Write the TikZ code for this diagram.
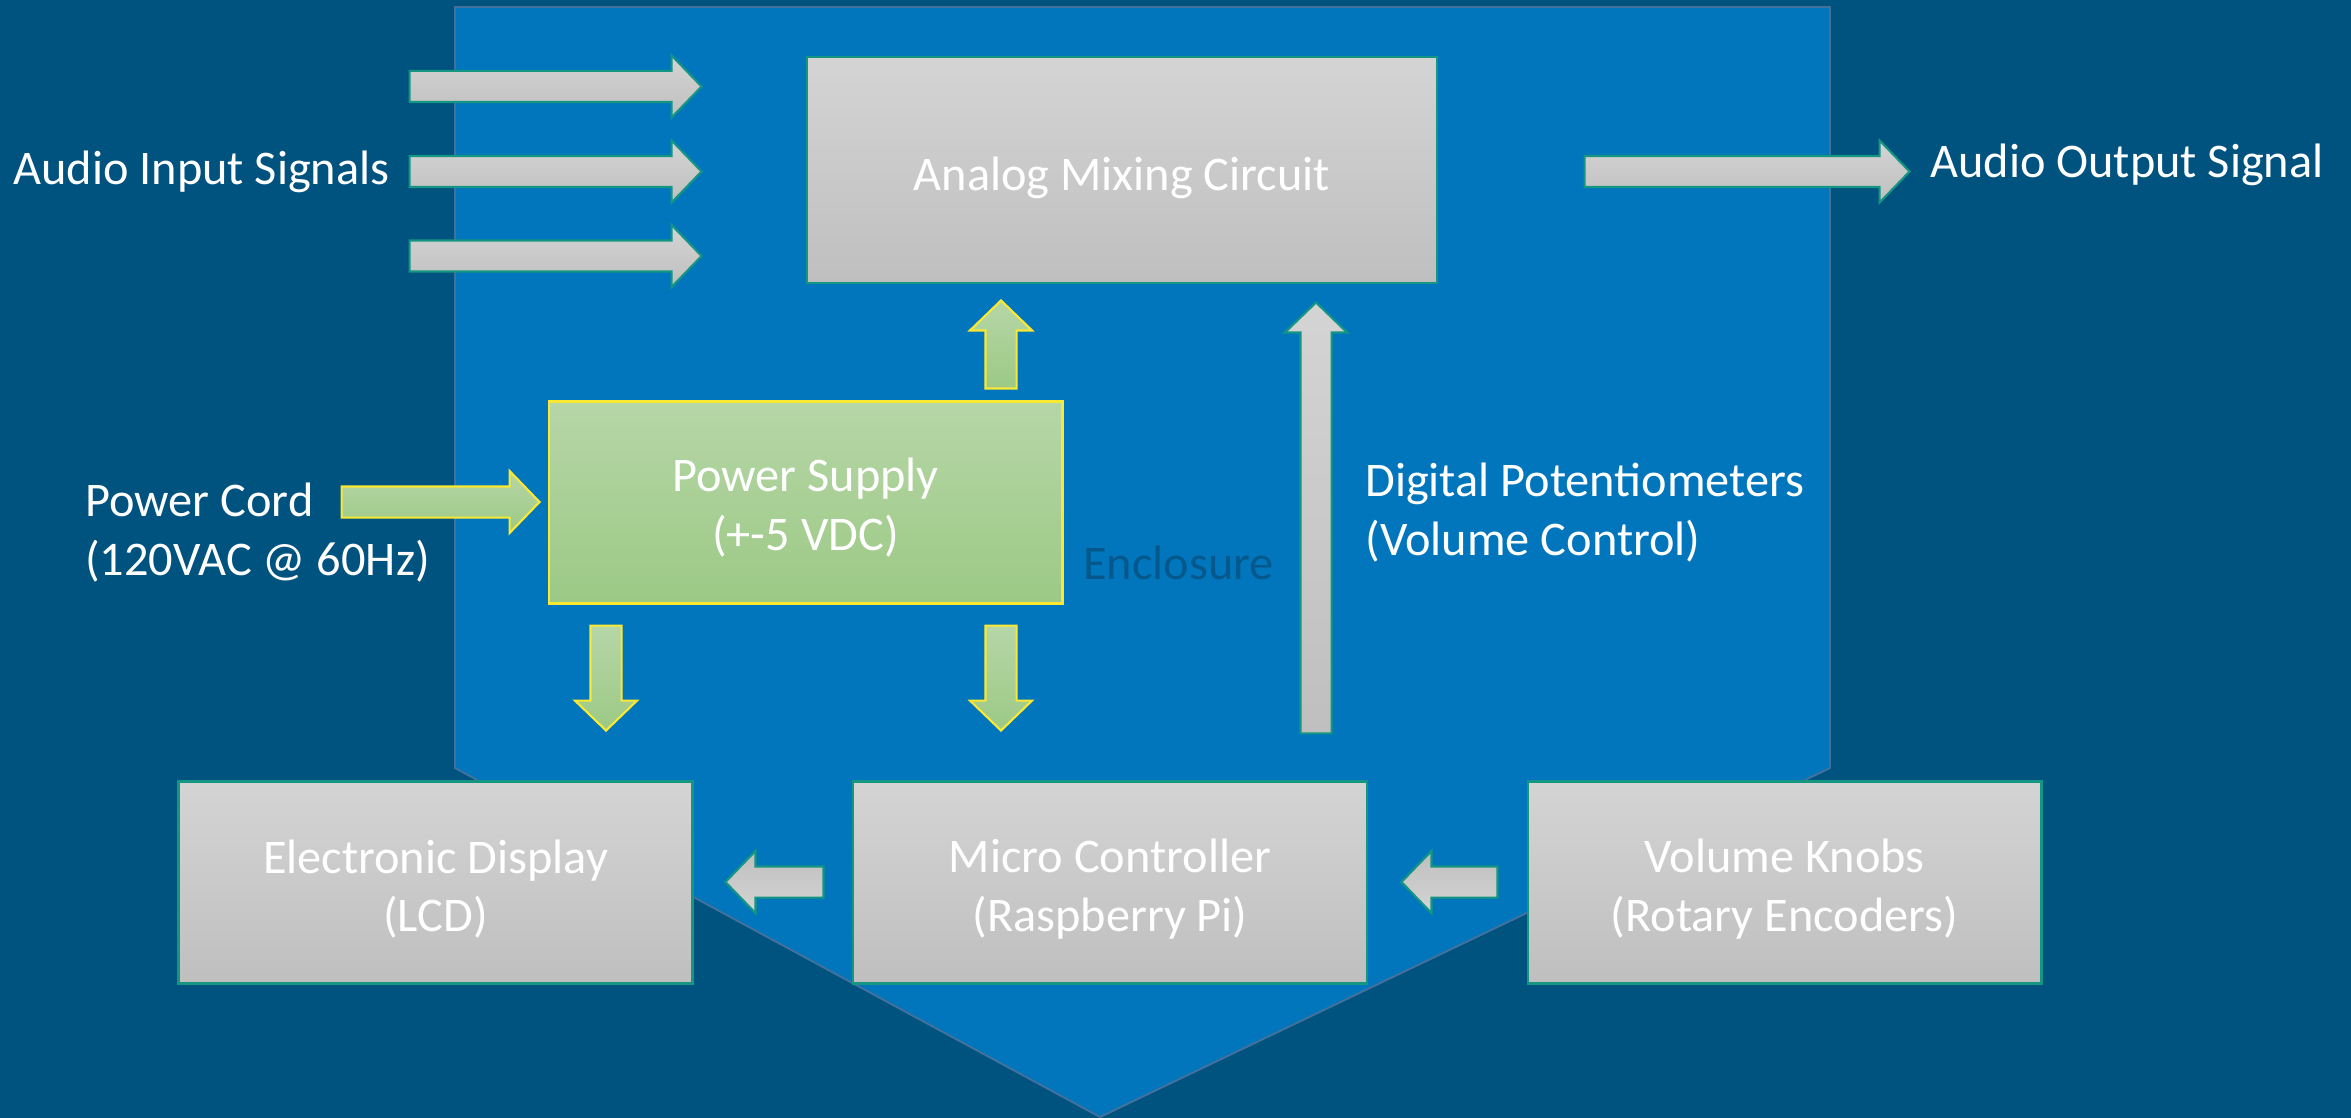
\documentclass[tikz,border=0pt]{standalone}
\usepackage{fontspec}
\setmainfont{Carlito}
\usetikzlibrary{shapes.arrows}

\definecolor{bgdark}{RGB}{0,82,127}
\definecolor{encl}{RGB}{2,118,188}
\definecolor{enclline}{RGB}{65,113,156}
\definecolor{encltext}{RGB}{4,88,140}
\definecolor{graytop}{RGB}{212,212,212}
\definecolor{graybot}{RGB}{191,191,191}
\definecolor{greentop}{RGB}{182,214,167}
\definecolor{greenbot}{RGB}{156,201,133}
\definecolor{tealline}{RGB}{20,150,130}
\definecolor{yelline}{RGB}{250,232,50}

\tikzset{
  lbl/.style={font=\fontsize{27.5}{33.5}\selectfont, text=white, inner sep=0pt},
  boxtext/.style={lbl, align=center, yshift=-0.13cm},
  box/.style={draw=tealline, line width=1.2pt, top color=graytop, bottom color=graybot,
    minimum width=10.28cm, minimum height=4.04cm, inner sep=0pt},
  psubox/.style={box, draw=yelline, top color=greentop, bottom color=greenbot},
  blk/.style={single arrow, draw=tealline, line width=1.2pt, top color=graytop, bottom color=graybot,
    inner sep=0.29cm, minimum width=1.2cm, single arrow head extend=0.31cm,
    single arrow tip angle=92, anchor=tip},
  gblk/.style={blk, draw=yelline, top color=greentop, bottom color=greenbot}
}

\begin{document}
\begin{tikzpicture}[x=0.02cm,y=-0.02cm]

% Background and enclosure
\useasboundingbox (0,0) rectangle (2351,1118);
\fill[bgdark] (0,0) rectangle (2351,1118);
\draw[draw=enclline, fill=encl, line width=1.1pt] (455,7) -- (1830,7) -- (1830,768) -- (1100,1117) -- (455,768) -- cycle;
\node[lbl, text=encltext, anchor=base west] (enc) at (1083,579) {Enclosure};

% Blocks
\node[box, minimum width=12.6cm, minimum height=4.52cm,
  label={[boxtext, yshift=-0.02cm]center:Analog Mixing Circuit}] (mix) at (1122,170) {};
\node[psubox, label={[boxtext, yshift=0.03cm]center:Power Supply\\(+-5 VDC)}] (psu) at (805.5,502.5) {};
\node[box, label={[boxtext]center:Electronic Display\\(LCD)}] (lcd) at (435.5,882.5) {};
\node[box, label={[boxtext]center:Micro Controller\\(Raspberry Pi)}] (mcu) at (1110,882.5) {};
\node[box, label={[boxtext]center:Volume Knobs\\(Rotary Encoders)}] (knobs) at (1784.5,882.5) {};

% Outside labels
\node[lbl, anchor=base west] (insig) at (13,185) {Audio Input Signals};
\node[lbl, anchor=base west] (outsig) at (1930,178) {Audio Output Signal};
\node[lbl, anchor=west, align=left] (cord) at (85,533) {Power Cord\\(120VAC @ 60Hz)};
\node[lbl, anchor=west, align=left] (pots) at (1365,513) {Digital Potentiometers\\(Volume Control)};

% Signal arrows
\foreach \y/\n in {86.5/1,171.5/2,256/3}
  \node[blk, minimum height=5.84cm] (in\n) at (703,\y) {};
\node[blk, minimum height=6.5cm] (mixout) at (1911,171.5) {};
\node[blk, minimum height=8.62cm, rotate=90] (potctl) at (1316,301) {};
\node[blk, minimum height=1.96cm, rotate=180, shading angle=180] (mcu2lcd) at (724,882) {};
\node[blk, minimum height=1.92cm, rotate=180, shading angle=180] (knob2mcu) at (1400,882) {};

% Power arrows
\node[gblk, minimum height=3.96cm] (cordin) at (541,502) {};
\node[gblk, minimum height=1.76cm, rotate=90] (psu2mix) at (1001,299) {};
\node[gblk, minimum height=2.1cm, rotate=-90] (psu2lcd) at (606,732) {};
\node[gblk, minimum height=2.1cm, rotate=-90] (psu2mcu) at (1001,732) {};

\end{tikzpicture}
\end{document}
